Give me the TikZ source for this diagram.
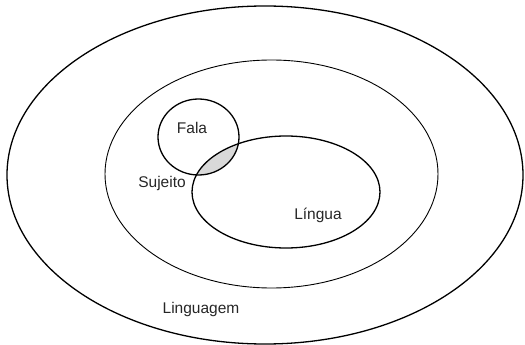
\documentclass[tikz,border=0pt]{standalone}
\usepackage{fontspec}
\setmainfont{Liberation Sans}
\begin{document}
\begin{tikzpicture}[x=1pt,y=-1pt,
  lbl/.style={font=\fontsize{15.5}{17}\selectfont, text=black!85, inner sep=0pt},
  thick line/.style={line width=1.3pt, draw=black},
  thin line/.style={line width=0.9pt, draw=black}]
\useasboundingbox (0,0) rectangle (525,345);
% intersection shading
\begin{scope}
  \clip (198.5,137) ellipse [x radius=40.5, y radius=38];
  \fill[black!15] (286,192) ellipse [x radius=94, y radius=56];
\end{scope}
\draw[thick line] (265,175) ellipse [x radius=258, y radius=169];
\draw[thin line] (271.5,174) ellipse [x radius=166.5, y radius=114];
\draw[thick line] (198.5,137) ellipse [x radius=40.5, y radius=38];
\draw[thick line] (286,192) ellipse [x radius=94, y radius=56];
\node[lbl] (fala) at (192,128) {Fala};
\node[lbl] (sujeito) at (162,183) {Sujeito};
\node[lbl] (lingua) at (318,215) {Língua};
\node[lbl] (linguagem) at (201,309) {Linguagem};
\end{tikzpicture}
\end{document}
